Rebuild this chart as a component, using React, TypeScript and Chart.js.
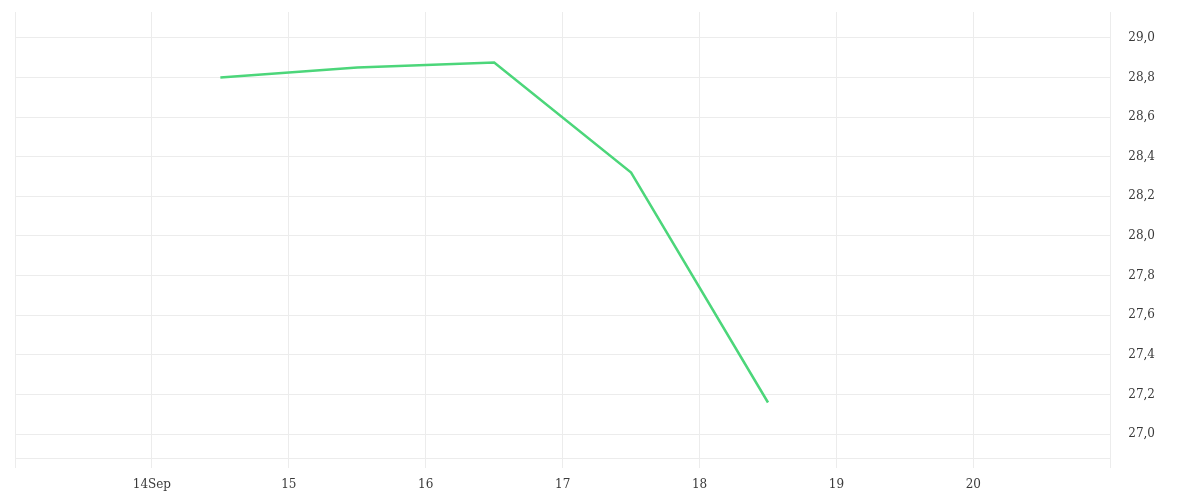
import React, { useEffect, useRef } from 'react';
import { Chart, registerables } from 'chart.js';

Chart.register(...registerables);

// day-of-September positions (points sit at noon) and temperatures
const days = [14.5, 15.5, 16.5, 17.5, 18.5];
const values = [28.8, 28.85, 28.875, 28.32, 27.16];
const xTicks = [13, 14, 15, 16, 17, 18, 19, 20, 21];
const yTicks = [27.0, 27.2, 27.4, 27.6, 27.8, 28.0, 28.2, 28.4, 28.6, 28.8, 29.0];

const gridColor = '#ececec';
const textColor = '#3a3a3a';
const fontFamily = "'DejaVu Serif', serif";

const App = () => {
    const chartRef = useRef<HTMLCanvasElement>(null);

    useEffect(() => {
        if (!chartRef.current) return;
        const ctx = chartRef.current.getContext('2d');
        if (!ctx) return;

        const myChart = new Chart(ctx, {
            type: 'line',
            data: {
                datasets: [{
                    data: days.map((d, i) => ({ x: d, y: values[i] })),
                    borderColor: 'rgb(76, 214, 122)',
                    borderWidth: 2.5,
                    pointRadius: 0,
                    fill: false,
                    tension: 0,
                }],
            },
            options: {
                animation: false,
                responsive: true,
                maintainAspectRatio: false,
                layout: { padding: { top: 4, left: 7, right: 19, bottom: 0 } },
                plugins: { legend: { display: false }, tooltip: { enabled: false } },
                scales: {
                    x: {
                        type: 'linear',
                        min: xTicks[0],
                        max: xTicks[xTicks.length - 1],
                        afterBuildTicks: (scale: any) => {
                            scale.ticks = xTicks.map((v) => ({ value: v }));
                        },
                        afterFit: (scale: any) => {
                            scale.paddingLeft = 0;
                            scale.paddingRight = 0;
                            scale.height = 34;
                        },
                        grid: { color: gridColor, tickLength: 10, drawTicks: true },
                        border: { color: gridColor },
                        ticks: {
                            color: textColor,
                            font: { family: fontFamily, size: 12 },
                            maxRotation: 0,
                            autoSkip: false,
                            padding: 10,
                            callback: (v: any) => {
                                if (v === xTicks[0] || v === xTicks[xTicks.length - 1]) return '';
                                return v === 14 ? '14Sep' : String(v);
                            },
                        },
                    },
                    y: {
                        position: 'right',
                        min: 26.88,
                        max: 29.13,
                        afterBuildTicks: (scale: any) => {
                            scale.ticks = yTicks.map((v) => ({ value: v }));
                        },
                        afterFit: (scale: any) => {
                            scale.paddingTop = 0;
                            scale.paddingBottom = 0;
                        },
                        grid: { color: gridColor, drawTicks: false },
                        border: { color: gridColor },
                        ticks: {
                            color: textColor,
                            font: { family: fontFamily, size: 12 },
                            padding: 18,
                            callback: (v: any) => Number(v).toFixed(1).replace('.', ','),
                        },
                    },
                },
            },
        });

        return () => myChart.destroy();
    }, []);

    return (
        <div style={{ width: '100%', height: 484 }}>
            <canvas ref={chartRef} />
        </div>
    );
};

export default App;
